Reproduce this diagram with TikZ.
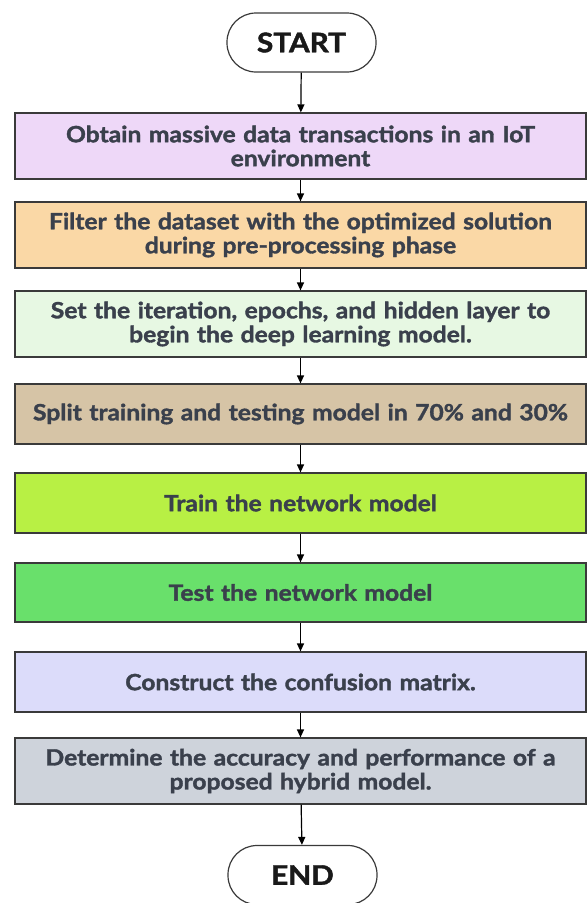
\documentclass[tikz,border=0pt]{standalone}
\usepackage{fontspec}
\setmainfont{Lato}[FakeStretch=1.1, BoldFeatures={FakeBold=1.6}]
\usetikzlibrary{arrows.meta}
\definecolor{c1}{HTML}{EED8F8}
\definecolor{c2}{HTML}{FAD8A6}
\definecolor{c3}{HTML}{E7F8E3}
\definecolor{c4}{HTML}{D6C4A6}
\definecolor{c5}{HTML}{B8F044}
\definecolor{c6}{HTML}{69E06B}
\definecolor{c7}{HTML}{DCDCFA}
\definecolor{c8}{HTML}{CED3DB}
\definecolor{txt}{HTML}{3A404C}
\definecolor{edge}{HTML}{3A3A3A}
\tikzset{
  stepbox/.style={draw=edge, line width=1.2pt, minimum width=571pt, text width=565pt,
    align=center, inner sep=0pt, text=txt, font=\bfseries\fontsize{22.4}{24}\selectfont},
  term/.style={draw=edge, line width=1.2pt, minimum width=149pt, minimum height=59pt,
    rounded corners=29pt, inner sep=0pt, text=black!90, font=\bfseries\fontsize{27}{28}\selectfont},
  arr/.style={draw=black, line width=1.2pt, -{Triangle[length=8pt,width=7pt]}}
}
\begin{document}
\begin{tikzpicture}[x=1pt,y=-1pt]
\useasboundingbox (0,0) rectangle (587,903);
\node[term] (start) at (301.5,42.5) {START};
\node[stepbox, fill=c1, minimum height=66pt] (b1) at (300.5,146) {Obtain massive data transactions in an IoT\\environment};
\node[stepbox, fill=c2, minimum height=66pt] (b2) at (300.5,235) {Filter the dataset with the optimized solution\\during pre-processing phase};
\node[stepbox, fill=c3, minimum height=66pt] (b3) at (300.5,324) {Set the iteration, epochs, and hidden layer to\\begin the deep learning model.};
\node[stepbox, fill=c4, minimum height=60pt] (b4) at (300.5,414) {Split training and testing model in 70\% and 30\%};
\node[stepbox, fill=c5, minimum height=60pt] (b5) at (300.5,503) {Train the network model};
\node[stepbox, fill=c6, minimum height=59pt] (b6) at (300.5,592.5) {Test the network model};
\node[stepbox, fill=c7, minimum height=60pt] (b7) at (300.5,682) {Construct the confusion matrix.};
\node[stepbox, fill=c8, minimum height=66pt] (b8) at (300.5,771) {Determine the accuracy and performance of a\\proposed hybrid model.};
\node[term] (end) at (302.5,875) {END};
\draw[arr] (start) -- (b1);
\draw[arr] (b1) -- (b2);
\draw[arr] (b2) -- (b3);
\draw[arr] (b3) -- (b4);
\draw[arr] (b4) -- (b5);
\draw[arr] (b5) -- (b6);
\draw[arr] (b6) -- (b7);
\draw[arr] (b7) -- (b8);
\draw[arr] (b8) -- (end);
\end{tikzpicture}
\end{document}
